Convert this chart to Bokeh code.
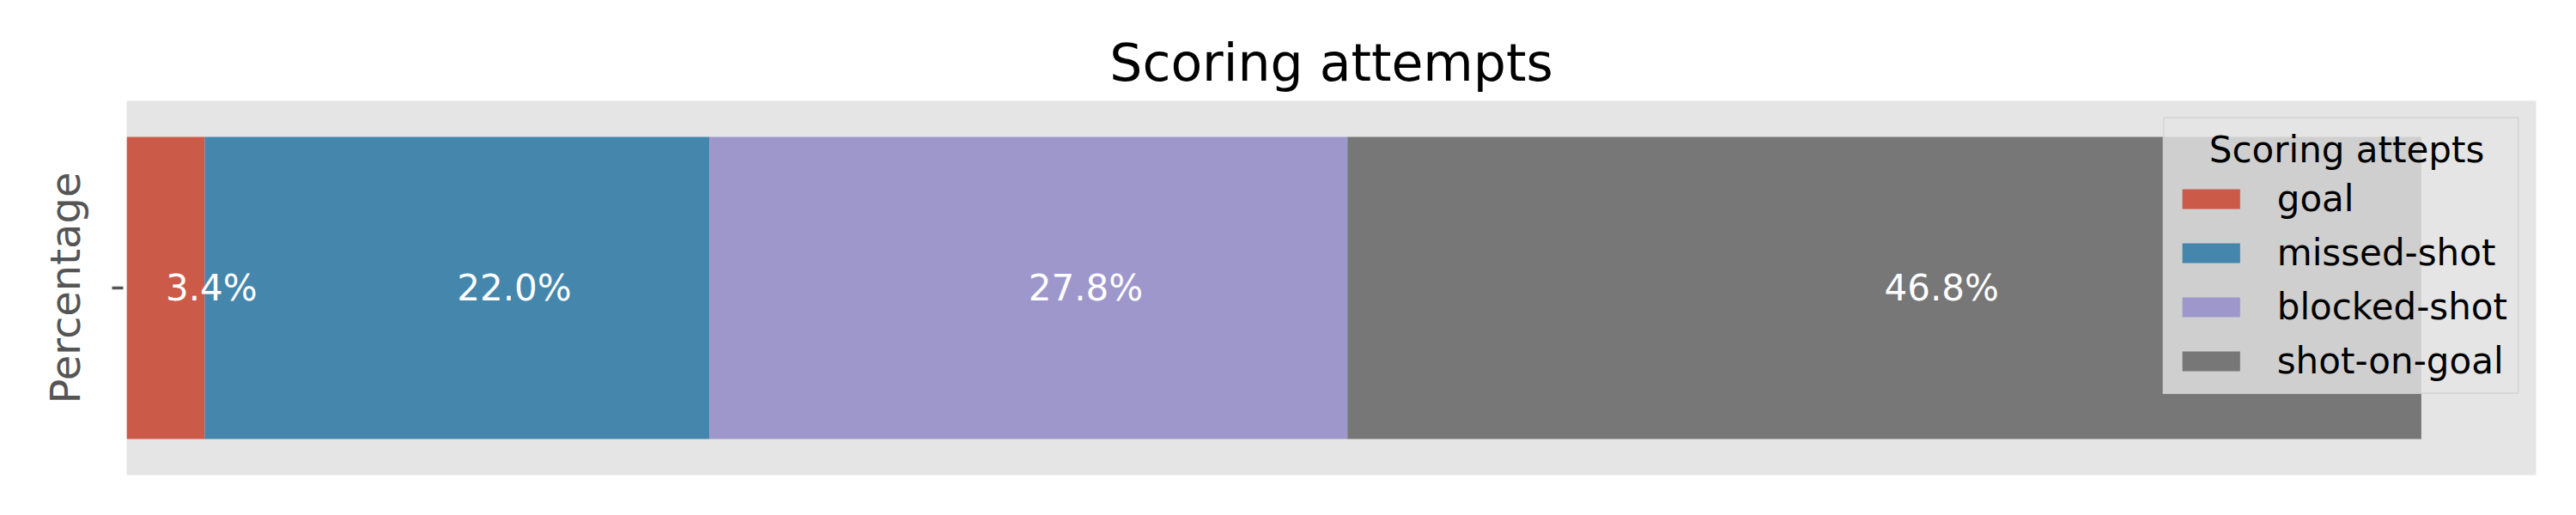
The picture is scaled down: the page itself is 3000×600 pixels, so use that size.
from bokeh.plotting import figure
from bokeh.models import Range1d, FixedTicker, Legend, LegendItem, ColumnDataSource
from bokeh.core.properties import value
from bokeh.embed import file_html
from bokeh.resources import INLINE

# ---- data ----
categories = ["goal", "missed-shot", "blocked-shot", "shot-on-goal"]
values = [3.4, 22.0, 27.8, 46.8]
colors = ["#CC5A49", "#4586AC", "#9E97CC", "#777777"]
title_text = "Scoring attempts"
legend_title = "Scoring attepts"
y_label = "Percentage"

FONT = "DejaVu Sans"

p = figure(width=2992, height=592, output_backend="svg", toolbar_location=None,
           x_range=Range1d(0, 105), y_range=Range1d(-0.5, 0.5),
           x_axis_location=None, min_border_left=147, min_border_right=39,
           min_border_top=117, min_border_bottom=39)
p.background_fill_color = "#E5E5E5"
p.border_fill_color = "white"
p.outline_line_color = None
p.grid.visible = False

p.title.text = title_text
p.title.align = "center"
p.title.text_font = FONT
p.title.text_font_size = "60px"
p.title.text_font_style = "normal"
p.title.text_color = "black"
p.title.standoff = 20

# stacked segments
lefts, rights, centers, labels = [], [], [], []
acc = 0.0
for v in values:
    lefts.append(acc)
    rights.append(acc + v)
    centers.append(acc + v / 2)
    labels.append(f"{v:.1f}%")
    acc += v

items = []
for i, cat in enumerate(categories):
    src = ColumnDataSource(dict(y=[0], left=[lefts[i]], right=[rights[i]]))
    r = p.hbar(y="y", left="left", right="right", height=0.807, source=src,
               fill_color=colors[i], line_color=None)
    items.append(LegendItem(label=cat, renderers=[r]))

p.text(x=centers, y=[0] * len(centers), text=labels, text_align="left",
       text_baseline="middle", text_color="white", text_font=value(FONT),
       text_font_size="42px")

ax = p.yaxis[0]
ax.ticker = FixedTicker(ticks=[0])
ax.major_label_overrides = {0: ""}
ax.major_label_text_font_size = "1px"
ax.minor_tick_line_color = None
ax.axis_line_color = None
ax.major_tick_in = -4
ax.major_tick_out = 17
ax.major_tick_line_color = "#555555"
ax.major_tick_line_width = 3.5
ax.axis_label = y_label
ax.axis_label_text_font = FONT
ax.axis_label_text_font_size = "48px"
ax.axis_label_text_font_style = "normal"
ax.axis_label_text_color = "#555555"
ax.axis_label_standoff = 27

# Bokeh draws the legend title left-aligned; non-breaking spaces centre it
legend = Legend(items=items, location="top_right", margin=19, padding=12,
                title="\u00a0\u00a0\u00a0" + legend_title, title_text_font=FONT,
                title_text_font_size="42px",
                title_text_font_style="normal", title_text_color="black",
                title_standoff=8,
                label_text_font=FONT, label_text_font_size="42px", label_text_color="black",
                glyph_width=84, glyph_height=29, label_standoff=35,
                label_height=49, spacing=14,
                background_fill_color="#E5E5E5", background_fill_alpha=0.8,
                border_line_color="#CCCCCC", border_line_width=2)
p.add_layout(legend)

open("out.html", "w").write(file_html(p, INLINE))
